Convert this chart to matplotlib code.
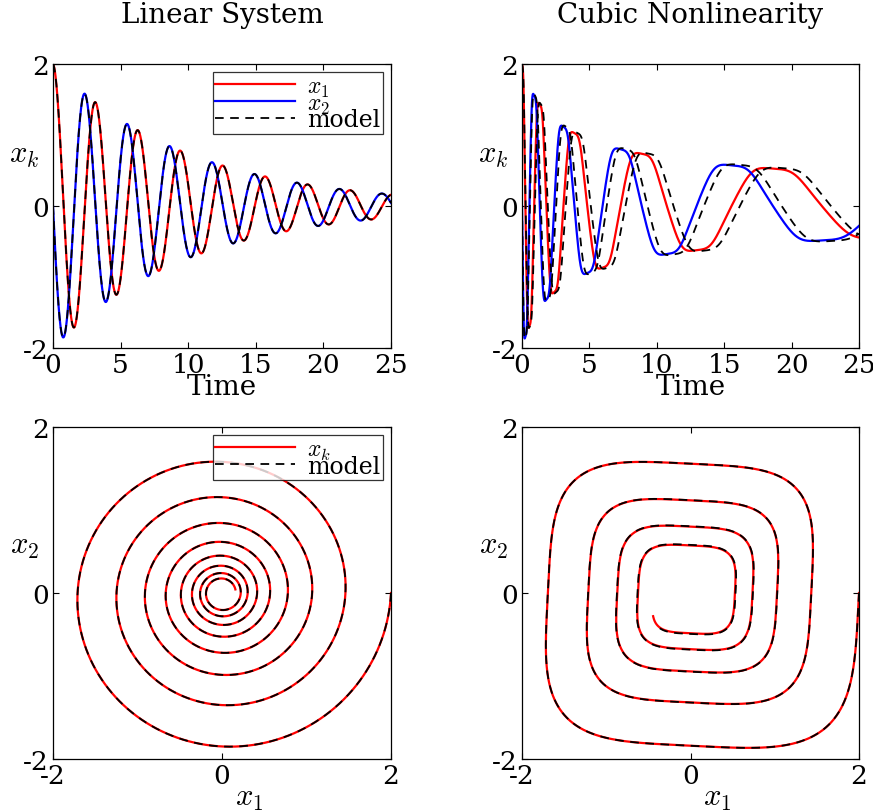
import numpy as np
import matplotlib
matplotlib.use("Agg")
import matplotlib.pyplot as plt

plt.rcParams['font.family'] = ['DejaVu Serif']
plt.rcParams['mathtext.fontset'] = 'cm'

# ---- data: system coefficients ----
x0 = [2.0, 0.0]
t_end = 25.0
# linear system: dx = A x
A_true = [[-0.1, 2.0], [-2.0, -0.1]]
A_model = [[-0.1, 2.0], [-2.0, -0.1]]
# cubic system: dx = C x^3 + L x
C_true = [[-0.1, 2.0], [-2.0, -0.1]]
L_true = [[0.0, 0.0], [0.0, 0.0]]
C_model = [[-0.0942, 1.883], [-1.883, -0.0942]]
L_model = [[0.0, 0.012], [-0.012, 0.0]]

xticks_time = [0, 5, 10, 15, 20, 25]
ticks_state = [-2, 0, 2]
tick_labels_state = ['-2', '0', '2']
titles = ["Linear System", "Cubic Nonlinearity"]


def simulate(M, power, L=None, dt=0.001):
    M = np.array(M)
    L = np.zeros((2, 2)) if L is None else np.array(L)
    n = int(round(t_end / dt))
    X = np.zeros((n + 1, 2))
    X[0] = x0
    f = lambda x: M @ (x ** power) + L @ x
    for i in range(n):
        x = X[i]
        k1 = f(x)
        k2 = f(x + dt / 2 * k1)
        k3 = f(x + dt / 2 * k2)
        k4 = f(x + dt * k3)
        X[i + 1] = x + dt / 6 * (k1 + 2 * k2 + 2 * k3 + k4)
    t = np.linspace(0, t_end, n + 1)
    return t, X


tL, XL = simulate(A_true, 1)
_, XLm = simulate(A_model, 1)
tC, XC = simulate(C_true, 3, L_true)
_, XCm = simulate(C_model, 3, L_model)

W, H = 873, 812
fig = plt.figure(figsize=(W / 100, H / 100), dpi=100)


def add_ax(l, r, t, b):
    return fig.add_axes([l / W, 1 - b / H, (r - l) / W, (b - t) / H])


axes = [add_ax(53, 391, 65, 349), add_ax(522, 859, 65, 349),
        add_ax(53, 391, 428, 760), add_ax(522, 859, 428, 760)]

red = '#ff0000'
blue = '#0000ff'
lw = 1.6
lw_d = 1.3
dash = (4.8, 3.6)
fs_tick = 19
fs_lab = 20
fs_leg = 17


def style(ax):
    ax.tick_params(direction='in', length=4, width=0.8, top=True, right=True,
                   labelsize=fs_tick, pad=3)
    for s in ax.spines.values():
        s.set_linewidth(0.9)


def make_legend(ax, handles, labels):
    leg = ax.legend(handles, labels, loc='upper right', fontsize=fs_leg, frameon=True,
                    fancybox=False, borderaxespad=0.35, handlelength=3.4,
                    handletextpad=0.5, labelspacing=-0.3, borderpad=0.1)
    leg.get_frame().set_edgecolor('black')
    leg.get_frame().set_linewidth(0.9)
    return leg


# time series
for k, (ax, t, X, Xm) in enumerate([(axes[0], tL, XL, XLm), (axes[1], tC, XC, XCm)]):
    h1, = ax.plot(t, X[:, 0], color=red, lw=lw)
    h2, = ax.plot(t, X[:, 1], color=blue, lw=lw)
    h3, = ax.plot(t, Xm[:, 0], 'k--', lw=lw_d, dashes=dash)
    ax.plot(t, Xm[:, 1], 'k--', lw=lw_d, dashes=dash)
    ax.set_xlim(0, 25)
    ax.set_ylim(-2, 2)
    ax.set_xticks(xticks_time)
    ax.set_yticks(ticks_state)
    ax.set_yticklabels(tick_labels_state)
    style(ax)
    ax.set_xlabel('Time', fontsize=fs_lab, labelpad=-3)
    ax.set_ylabel(r'$x_k$', fontsize=fs_lab + 2, rotation=0)
    ax.yaxis.set_label_coords(-0.085, 0.63)
    ax.set_title(titles[k], fontsize=fs_lab, pad=30)
    if k == 0:
        make_legend(ax, [h1, h2, h3], [r'$x_1$', r'$x_2$', 'model'])

# phase portraits
for k, (ax, X, Xm) in enumerate([(axes[2], XL, XLm), (axes[3], XC, XCm)]):
    h1, = ax.plot(X[:, 0], X[:, 1], color=red, lw=lw)
    h2, = ax.plot(Xm[:, 0], Xm[:, 1], 'k--', lw=lw_d, dashes=dash)
    ax.set_xlim(-2, 2)
    ax.set_ylim(-2, 2)
    ax.set_xticks(ticks_state)
    ax.set_yticks(ticks_state)
    ax.set_xticklabels(tick_labels_state)
    ax.set_yticklabels(tick_labels_state)
    style(ax)
    ax.set_xlabel(r'$x_1$', fontsize=fs_lab + 2)
    ax.xaxis.set_label_coords(0.58, -0.065)
    ax.set_ylabel(r'$x_2$', fontsize=fs_lab + 2, rotation=0)
    ax.yaxis.set_label_coords(-0.085, 0.6)
    if k == 0:
        make_legend(ax, [h1, h2], [r'$x_k$', 'model'])

fig.savefig('out.png', dpi=100)
